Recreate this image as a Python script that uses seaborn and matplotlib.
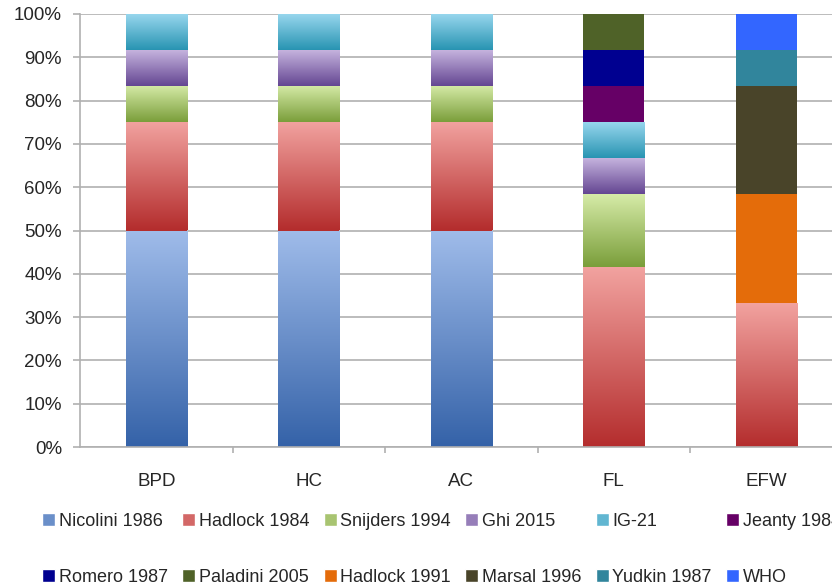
import numpy as np
import matplotlib
matplotlib.use("Agg")
import matplotlib.pyplot as plt
import seaborn as sns
from matplotlib.colors import LinearSegmentedColormap, to_rgb
from matplotlib.patches import Patch

"""
    Datos: porcentaje de cada referencia por biometría.
"""
categories = ["BPD", "HC", "AC", "FL", "EFW"]

nicolini_1986 = [50, 50, 50, 0, 0]
hadlock_1984 = [25, 25, 25, 41.67, 33.33]
snijders_1994 = [8.33, 8.33, 8.33, 16.67, 0]
ghi_2015 = [8.33, 8.33, 8.33, 8.33, 0]
ig_21 = [8.33, 8.33, 8.33, 8.33, 0]
jeanty_1984 = [0, 0, 0, 8.33, 0]
romero_1987 = [0, 0, 0, 8.33, 0]
paladini_2005 = [0, 0, 0, 8.33, 0]
hadlock_1991 = [0, 0, 0, 0, 25]
marsal_1996 = [0, 0, 0, 0, 25]
yudkin_1987 = [0, 0, 0, 0, 8.33]
who = [0, 0, 0, 0, 8.33]

yticks = [0, 10, 20, 30, 40, 50, 60, 70, 80, 90, 100]

# (nombre, valores, color abajo, color arriba) -> los 5 primeros con degradado
series = [
    ("Nicolini 1986", nicolini_1986, "#3462A8", "#A0BCEA"),
    ("Hadlock 1984", hadlock_1984, "#B42D2D", "#F2A3A0"),
    ("Snijders 1994", snijders_1994, "#7A9E3A", "#D6EBA8"),
    ("Ghi 2015", ghi_2015, "#644692", "#C8B6E0"),
    ("IG-21", ig_21, "#2894B2", "#9AD8EF"),
    ("Jeanty 1984", jeanty_1984, "#660066", None),
    ("Romero 1987", romero_1987, "#000090", None),
    ("Paladini 2005", paladini_2005, "#4F6228", None),
    ("Hadlock 1991", hadlock_1991, "#E46C0A", None),
    ("Marsal 1996", marsal_1996, "#494429", None),
    ("Yudkin 1987", yudkin_1987, "#31859C", None),
    ("WHO", who, "#3366FF", None),
]

sns.set_style("white")
plt.rcParams["font.family"] = ["Liberation Sans", "DejaVu Sans"]

fig = plt.figure(figsize=(8.32, 5.85), dpi=100)
ax = fig.add_axes([80 / 832, 1 - 447 / 585, 752 / 832, 433 / 585])

"""
    Barras apiladas: cada serie encima de la suma de las anteriores.
"""
grad = np.linspace(0, 1, 256)[:, None]
bottom = np.zeros(len(categories))
handles = []
for name, vals, c_low, c_high in series:
    sns.barplot(x=categories, y=vals, bottom=bottom, color=c_low, saturation=1,
                width=0.40, errorbar=None, linewidth=0, ax=ax)
    bars = ax.containers[-1]
    if c_high is not None:
        cmap = LinearSegmentedColormap.from_list(name, [c_low, c_high])
        for bar in bars:
            x0, y0 = bar.get_xy()
            w, h = bar.get_width(), bar.get_height()
            if h <= 0:
                continue
            im = ax.imshow(grad, cmap=cmap, extent=(x0, x0 + w, y0, y0 + h),
                           origin="lower", aspect="auto", zorder=bar.get_zorder() + 0.1)
            im.set_clip_path(bar)
        mid = tuple((np.array(to_rgb(c_low)) + np.array(to_rgb(c_high))) / 2)
        handles.append(Patch(facecolor=mid, label=name))
    else:
        handles.append(Patch(facecolor=c_low, label=name))
    bottom = bottom + np.array(vals)

ax.set_xlim(-0.5, 4.431)
ax.set_ylim(0, 100)
ax.set_aspect("auto")

# ejes y rejilla
ax.set_axisbelow(True)
ax.yaxis.grid(True, color="#B0B0B0", linewidth=1.2)
ax.set_yticks(yticks)
ax.set_yticklabels([f"{v}%" for v in yticks], fontsize=13.5)
ax.tick_params(axis="y", length=5, width=1.2, color="#B0B0B0", pad=8, left=True)
ax.set_xticks(range(len(categories)))
ax.set_xticklabels(categories, fontsize=13.5)
ax.set_xticks([0.5, 1.5, 2.5, 3.5], minor=True)
ax.tick_params(axis="x", which="major", length=0, pad=19)
ax.tick_params(axis="x", which="minor", length=4.5, width=1.2, color="#B0B0B0", bottom=True)
ax.set_xlabel("")
ax.set_ylabel("")
for s in ["top", "right"]:
    ax.spines[s].set_visible(False)
for s in ["left", "bottom"]:
    ax.spines[s].set_color("#B0B0B0")
    ax.spines[s].set_linewidth(1.2)

"""
    Leyenda en dos filas (se reordena porque matplotlib llena por columnas).
"""
order = [handles[r * 6 + c] for c in range(6) for r in range(2)]
fig.legend(handles=order, loc="upper left", bbox_to_anchor=(42 / 832, 1 - 513 / 585),
           ncol=6, frameon=False, fontsize=13, handlelength=0.72, handleheight=0.72,
           handletextpad=0.2, columnspacing=0.8, labelspacing=2.15,
           borderpad=0, borderaxespad=0)

plt.savefig("out.png", dpi=100)
plt.close()
